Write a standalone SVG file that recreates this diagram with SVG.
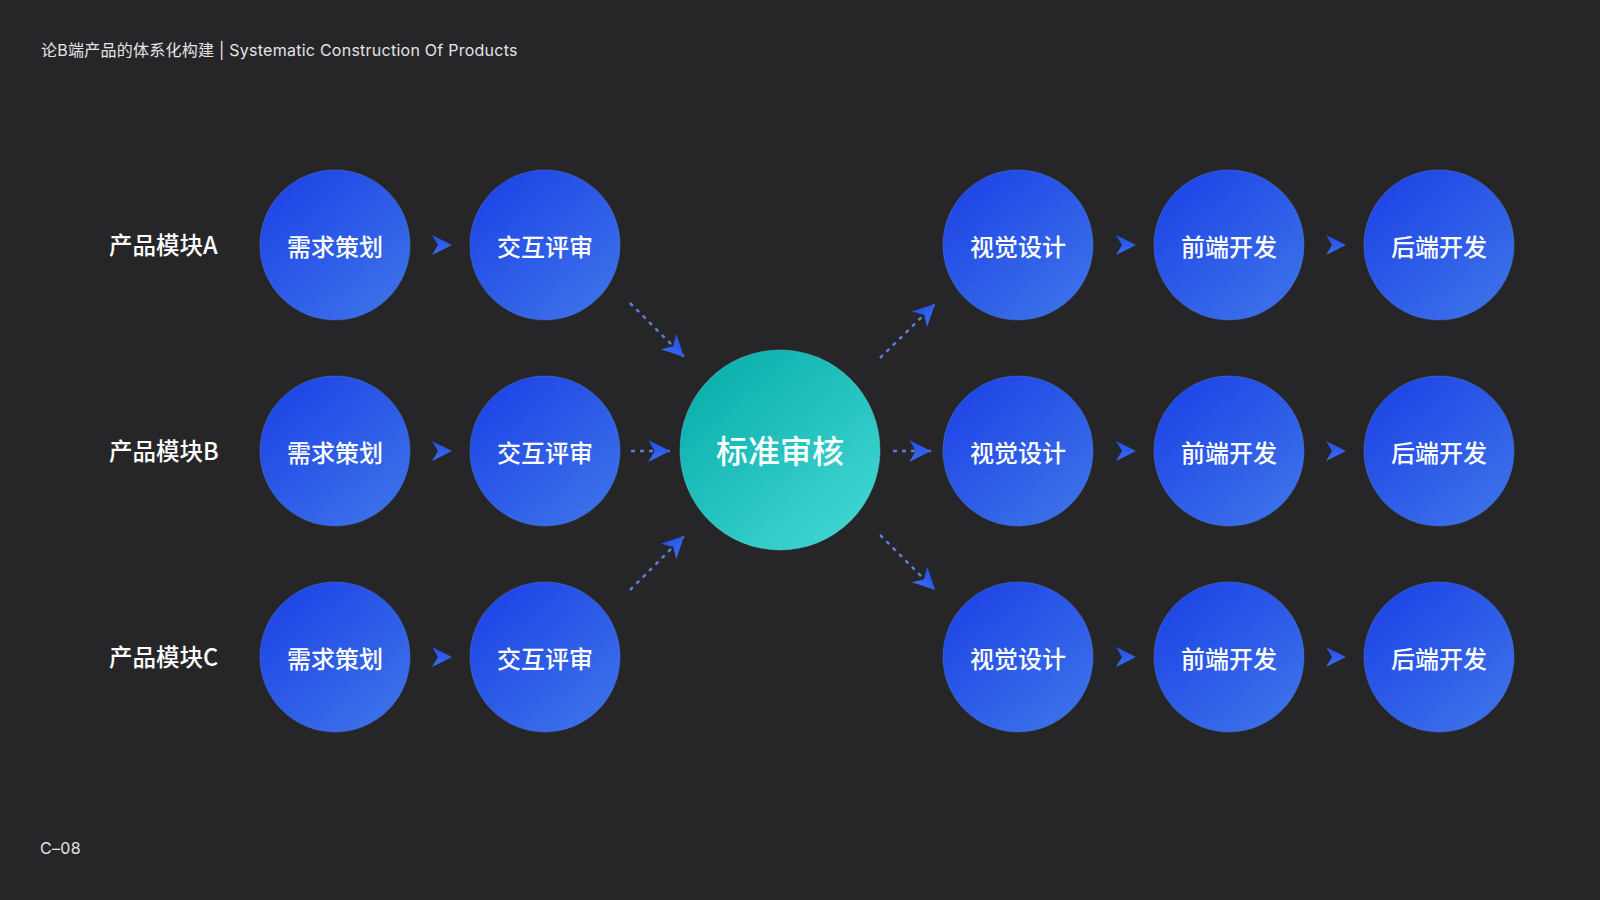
<svg xmlns="http://www.w3.org/2000/svg" width="1600" height="900" viewBox="0 0 1600 900">
<defs>
<linearGradient id="gBlue" x1="0.15" y1="0.1" x2="0.85" y2="0.9">
<stop offset="0" stop-color="#1f46e6"/>
<stop offset="1" stop-color="#3b70e9"/>
</linearGradient>
<linearGradient id="gTeal" x1="0.15" y1="0.1" x2="0.85" y2="0.9">
<stop offset="0" stop-color="#0cb0ad"/>
<stop offset="1" stop-color="#3ed4d1"/>
</linearGradient>
<linearGradient id="gArrow" x1="0" y1="0" x2="0" y2="1">
<stop offset="0" stop-color="#2450ea"/>
<stop offset="1" stop-color="#3a6df0"/>
</linearGradient>
<marker id="ah" markerUnits="userSpaceOnUse" markerWidth="24" markerHeight="24" viewBox="-21 -11 22 22" refX="0" refY="0" orient="auto" overflow="visible">
<path d="M0,0 L-20,-10 L-14,0 L-20,10 Z" fill="url(#gArrow)"/>
</marker>
<path id="chev" d="M0,0 L-20,-10 L-14,0 L-20,10 Z"/>
</defs>
<style>
.bg{fill:#262628}
.node{fill:url(#gBlue);stroke:#4a7ff0;stroke-opacity:.45;stroke-width:1}
.core{fill:url(#gTeal);stroke:#5fe0dc;stroke-opacity:.4;stroke-width:1}
.nt{font-family:"Noto Sans CJK SC","Noto Sans",sans-serif;font-size:24px;font-weight:500;fill:#ffffff;text-anchor:middle;dominant-baseline:central}
.ct{font-family:"Noto Sans CJK SC","Noto Sans",sans-serif;font-size:32px;font-weight:500;fill:#ffffff;text-anchor:middle;dominant-baseline:central}
.lab{font-family:"Noto Sans CJK SC","Noto Sans",sans-serif;font-size:23.5px;font-weight:500;fill:#ffffff;dominant-baseline:central}
.meta{font-family:Inter,"Noto Sans CJK SC",sans-serif;font-size:16px;fill:#e4e4e6}
.dash{stroke:#5b80d6;stroke-width:2.5;stroke-dasharray:4 5;fill:none}
.chev{fill:url(#gArrow)}
</style>
<rect class="bg" x="0" y="0" width="1600" height="900"/>
<text class="meta" x="41" y="56" letter-spacing="0.25">论B端产品的体系化构建 | Systematic Construction Of Products</text>
<text class="meta" x="40" y="854" letter-spacing="0.3">C–08</text>

<g id="labels">
<text class="lab" x="109" y="244">产品模块A</text>
<text class="lab" x="109" y="450">产品模块B</text>
<text class="lab" x="109" y="656">产品模块C</text>
</g>

<g id="connectors">
<use href="#chev" class="chev" transform="translate(452,245)"/>
<use href="#chev" class="chev" transform="translate(452,451)"/>
<use href="#chev" class="chev" transform="translate(452,657)"/>
<use href="#chev" class="chev" transform="translate(1136,245)"/>
<use href="#chev" class="chev" transform="translate(1136,451)"/>
<use href="#chev" class="chev" transform="translate(1136,657)"/>
<use href="#chev" class="chev" transform="translate(1346,245)"/>
<use href="#chev" class="chev" transform="translate(1346,451)"/>
<use href="#chev" class="chev" transform="translate(1346,657)"/>
<path class="dash" d="M630,303 L684,357" marker-end="url(#ah)"/>
<path class="dash" d="M631,451 L670,451" marker-end="url(#ah)"/>
<path class="dash" d="M630,590 L684,536" marker-end="url(#ah)"/>
<path class="dash" d="M880,358 L935,304" marker-end="url(#ah)"/>
<path class="dash" d="M893,451 L931,451" marker-end="url(#ah)"/>
<path class="dash" d="M880,535 L935,590" marker-end="url(#ah)"/>
</g>

<g id="a1"><circle class="node" cx="335" cy="245" r="75"/><text class="nt" x="335" y="245">需求策划</text></g>
<g id="a2"><circle class="node" cx="545" cy="245" r="75"/><text class="nt" x="545" y="245">交互评审</text></g>
<g id="b1"><circle class="node" cx="335" cy="451" r="75"/><text class="nt" x="335" y="451">需求策划</text></g>
<g id="b2"><circle class="node" cx="545" cy="451" r="75"/><text class="nt" x="545" y="451">交互评审</text></g>
<g id="c1"><circle class="node" cx="335" cy="657" r="75"/><text class="nt" x="335" y="657">需求策划</text></g>
<g id="c2"><circle class="node" cx="545" cy="657" r="75"/><text class="nt" x="545" y="657">交互评审</text></g>

<g id="core"><circle class="core" cx="780" cy="450" r="100"/><text class="ct" x="780" y="449">标准审核</text></g>

<g id="a4"><circle class="node" cx="1018" cy="245" r="75"/><text class="nt" x="1018" y="245">视觉设计</text></g>
<g id="a5"><circle class="node" cx="1229" cy="245" r="75"/><text class="nt" x="1229" y="245">前端开发</text></g>
<g id="a6"><circle class="node" cx="1439" cy="245" r="75"/><text class="nt" x="1439" y="245">后端开发</text></g>
<g id="b4"><circle class="node" cx="1018" cy="451" r="75"/><text class="nt" x="1018" y="451">视觉设计</text></g>
<g id="b5"><circle class="node" cx="1229" cy="451" r="75"/><text class="nt" x="1229" y="451">前端开发</text></g>
<g id="b6"><circle class="node" cx="1439" cy="451" r="75"/><text class="nt" x="1439" y="451">后端开发</text></g>
<g id="c4"><circle class="node" cx="1018" cy="657" r="75"/><text class="nt" x="1018" y="657">视觉设计</text></g>
<g id="c5"><circle class="node" cx="1229" cy="657" r="75"/><text class="nt" x="1229" y="657">前端开发</text></g>
<g id="c6"><circle class="node" cx="1439" cy="657" r="75"/><text class="nt" x="1439" y="657">后端开发</text></g>
</svg>
